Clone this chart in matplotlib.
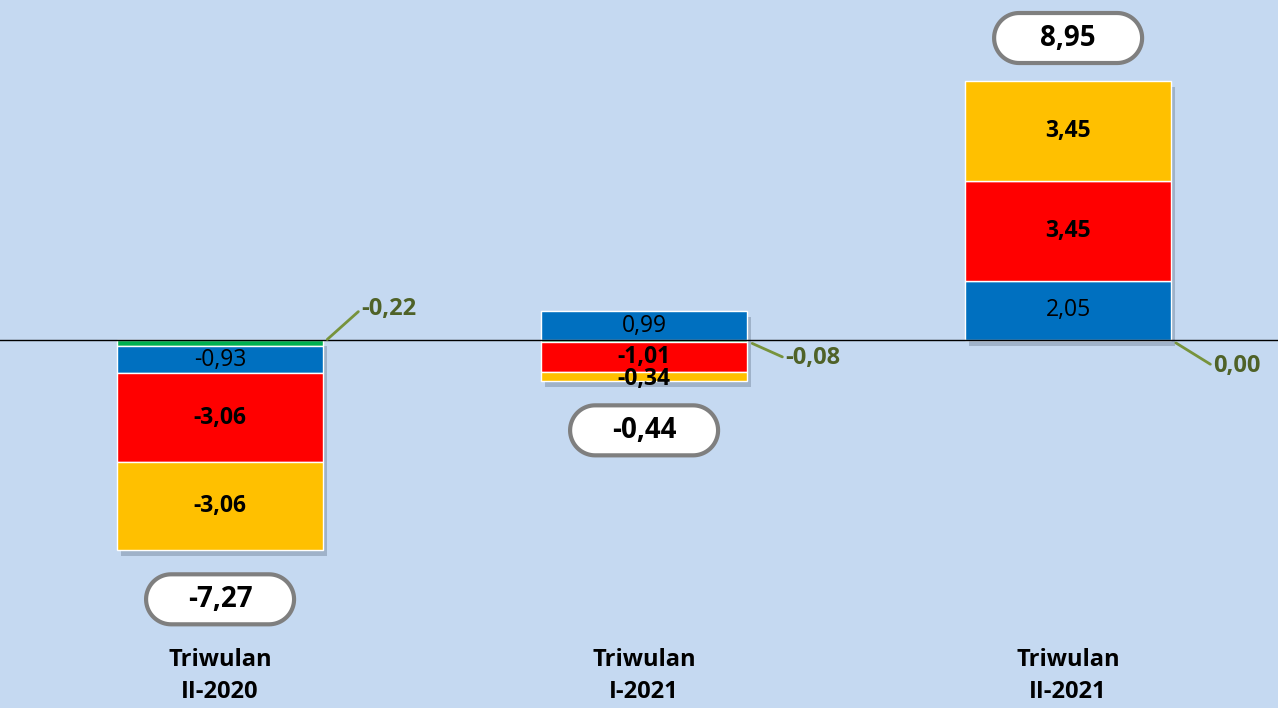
import numpy as np
import matplotlib.pyplot as plt
import matplotlib.patheffects as pe
from matplotlib.patches import Polygon
from matplotlib.transforms import ScaledTranslation, blended_transform_factory

plt.rcParams['font.family'] = ['Open Sans', 'DejaVu Sans']

# Data
categories = ["Triwulan\nII-2020", "Triwulan\nI-2021", "Triwulan\nII-2021"]
green = [-0.22, -0.08, 0.00]
blue = [-0.93, 0.99, 2.05]
red = [-3.06, -1.01, 3.45]
yellow = [-3.06, -0.34, 3.45]
totals = [-7.27, -0.44, 8.95]

series = [
    (green, "#00B050", None),
    (blue, "#0070C0", "normal"),
    (red, "#FF0000", "bold"),
    (yellow, "#FFC000", "bold"),
]

bg = "#C5D9F1"
fig = plt.figure(figsize=(12.78, 7.08), dpi=100, facecolor=bg)
ax = fig.add_axes([0, 0, 1, 1])
ax.set_facecolor(bg)
ax.axis("off")
ax.set_xlim(-0.519, 2.495)
ax.set_ylim(-12.72, 11.75)

x = np.arange(len(categories))
width = 0.486

# stack positives up and negatives down
vals = np.array([s[0] for s in series])
pos_sum = np.where(vals > 0, vals, 0).sum(axis=0)
neg_sum = np.where(vals < 0, vals, 0).sum(axis=0)

# shadow behind each whole bar
ax.bar(x, pos_sum - neg_sum, width, bottom=neg_sum, color="none", zorder=1,
       path_effects=[pe.SimplePatchShadow(offset=(3, -4), shadow_rgbFace="#5a6b80", alpha=0.35)])

pos_base = np.zeros(len(x))
neg_base = np.zeros(len(x))
for values, color, weight in series:
    v = np.array(values)
    bottom = np.where(v >= 0, pos_base, neg_base)
    ax.bar(x, v, width, bottom=bottom, color=color, edgecolor="white", linewidth=1, zorder=2)
    if weight is not None:
        for xi, b, val in zip(x, bottom, v):
            # thin segments: label sits a touch below centre, as in the source
            nudge = -3 if abs(val) < 0.5 else 0
            ax.annotate(f"{val:.2f}".replace(".", ","), xy=(xi, b + val / 2),
                        xytext=(0, nudge), textcoords="offset pixels",
                        ha="center", va="center", fontsize=16.5, fontweight=weight,
                        color="black", zorder=4)
    pos_base = pos_base + np.where(v > 0, v, 0)
    neg_base = neg_base + np.where(v < 0, v, 0)

# zero line
ax.axhline(0, color="black", linewidth=1, zorder=3)

# green series labels with leader lines
green_offsets = [(38, 34), (38, -17), (42, -26)]
for xi, val, off in zip(x, green, green_offsets):
    ax.annotate(f"{val:.2f}".replace(".", ","), xy=(xi + width / 2, val / 2),
                xytext=off, textcoords="offset pixels", ha="left", va="center",
                fontsize=17, fontweight="bold", color="#4F6228",
                arrowprops=dict(arrowstyle="-", color="#77933C", lw=2,
                                relpos=(0, 0.5), shrinkA=0, shrinkB=4), zorder=4)

# total pills (true semicircle ends)
w, h = 1.48, 0.50
r = h / 2
t1 = np.linspace(np.pi / 2, 3 * np.pi / 2, 40)
t2 = np.linspace(-np.pi / 2, np.pi / 2, 40)
pill = np.vstack([
    np.column_stack([-w / 2 + r + r * np.cos(t1), r * np.sin(t1)]),
    np.column_stack([w / 2 - r + r * np.cos(t2), r * np.sin(t2)]),
])
for xi, tot, p, n in zip(x, totals, pos_sum, neg_sum):
    if tot >= 0:
        anchor, dy = p, 0.43
    else:
        anchor, dy = n, -0.49
    tr = fig.dpi_scale_trans + ScaledTranslation(xi, anchor, ax.transData)
    ax.add_patch(Polygon(pill + [0, dy], closed=True, facecolor="white",
                         edgecolor="#7F7F7F", linewidth=3, transform=tr, zorder=5))
    ax.text(0, dy, f"{tot:.2f}".replace(".", ","), transform=tr, ha="center", va="center",
            fontsize=20, fontweight="bold", color="black", zorder=6)

# category labels
trans = blended_transform_factory(ax.transData, ax.transAxes)
for xi, cat in zip(x, categories):
    ax.text(xi, 0.045, cat, transform=trans, ha="center", va="center",
            fontsize=17, fontweight="bold", color="black", linespacing=1.45)

fig.savefig("out.png", dpi=100, facecolor=bg)
